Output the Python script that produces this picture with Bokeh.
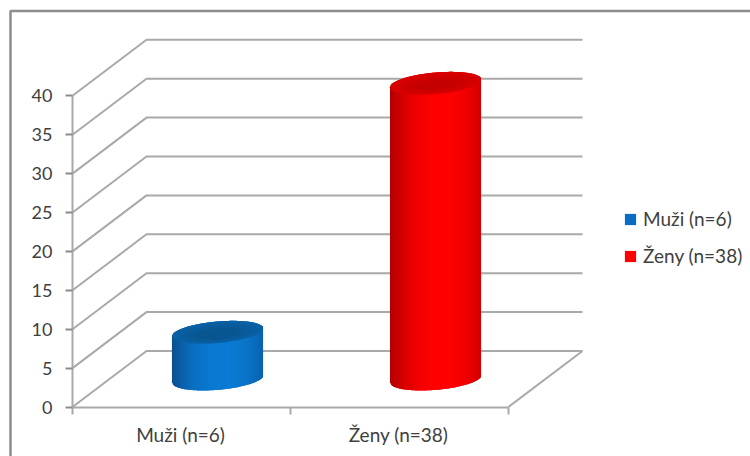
import math

from bokeh.embed import file_html
from bokeh.models import FixedTicker, Legend, LegendItem, LinearAxis, Range1d
from bokeh.plotting import figure
from bokeh.resources import INLINE

categories = ["Muži (n=6)", "Ženy (n=38)"]
values = [6, 38]
value_ticks = [0, 5, 10, 15, 20, 25, 30, 35, 40]

page_w, page_h = 750, 456
zero_row = 406.5
px_per_unit = 7.78
font = "Lato"
text_color = "#404040"
grid_color = "#a9a9a9"

# Oblique projection of the chart box: wall depth and floor corners
left_x, right_x = 72, 508
depth_x, depth_px = 74, 56
depth = depth_px / px_per_unit
cat_centres = [180, 398]
boundaries = [72, 290, 508]

# Cylinder cross-section as seen on the sloped floor
major_x, skew_x, minor_px = 43, 15, 11.5
half_width = math.hypot(major_x, skew_x)
minor = minor_px / px_per_unit

# (key colour, edge, highlight, lid rim, lid core) for each cylinder
shades = [
    ("#0a6ec4", "#0b4f8f", "#0a7bd4", "#0a60a4", "#08558f"),
    ("#ff0000", "#b00000", "#ff0000", "#d80000", "#c40000"),
]

p = figure(
    width=page_w, height=page_h, output_backend="svg", toolbar_location=None,
    x_range=Range1d(0, page_w),
    y_range=Range1d(-(page_h - zero_row) / px_per_unit, zero_row / px_per_unit),
    min_border=0, x_axis_location=None, y_axis_location=None,
    outline_line_color=None, background_fill_color="white", border_fill_color="white",
)
p.xgrid.visible = False
p.ygrid.visible = False

y_top = zero_row / px_per_unit
y_bottom = -(page_h - zero_row) / px_per_unit

# Chart area border: left and top edges, both running off the page
frame_y = y_top - 10.5 / px_per_unit
p.line([10, 10, page_w], [y_bottom, frame_y, frame_y], line_color="#8c8c8c", line_width=2.5)

# Wall and side gridlines
p.multi_line(
    [[left_x, left_x + depth_x, right_x + depth_x] for _ in value_ticks],
    [[v, v + depth, v + depth] for v in value_ticks],
    line_color=grid_color, line_width=2,
)
p.line([right_x, right_x + depth_x], [0, depth], line_color=grid_color, line_width=2)

# Axes
y_axis = LinearAxis(
    fixed_location=left_x, ticker=FixedTicker(ticks=value_ticks), bounds=(0, 40),
    axis_line_color=grid_color, axis_line_width=2,
    major_tick_line_color="#8c8c8c", major_tick_line_width=2, major_tick_in=0, major_tick_out=7,
    minor_tick_line_color=None,
    major_label_text_font=font, major_label_text_font_size="18px",
    major_label_text_color=text_color, major_label_standoff=13,
)
p.add_layout(y_axis, "left")

x_axis = LinearAxis(
    fixed_location=0, ticker=FixedTicker(ticks=cat_centres, minor_ticks=boundaries),
    bounds=(left_x, right_x),
    axis_line_color=grid_color, axis_line_width=2,
    major_tick_line_color=None, major_tick_in=0, major_tick_out=0,
    minor_tick_line_color=grid_color, minor_tick_line_width=2, minor_tick_in=0, minor_tick_out=7,
    major_label_overrides=dict(zip(cat_centres, categories)),
    major_label_text_font=font, major_label_text_font_size="19px",
    major_label_text_color=text_color, major_label_standoff=9,
)
p.add_layout(x_axis, "below")

# Cylinders: flat bar as the base, shaded vertical strips over it, then the lid
def ellipse_rim(cx, cy):
    ts = [i / 60 * 2 * math.pi for i in range(60)]
    return ([cx + major_x * math.cos(t) + skew_x * math.sin(t) for t in ts],
            [cy + minor * math.sin(t) for t in ts])

def rim_edges(u):
    # Upper and lower rim heights, relative to the ellipse centre, at horizontal offset u
    a = major_x ** 2 + skew_x ** 2
    disc = max(a - u * u, 0.0)
    mid = u * skew_x / a
    spread = major_x * math.sqrt(disc) / a
    return minor * (mid + spread), minor * (mid - spread)

def mix(c1, c2, f):
    a = [int(c1[i:i + 2], 16) for i in (1, 3, 5)]
    b = [int(c2[i:i + 2], 16) for i in (1, 3, 5)]
    return "#%02x%02x%02x" % tuple(round(x + (y - x) * f) for x, y in zip(a, b))

keys = []
for cat_x, val, (key, edge, light, lid_rim, lid_core) in zip(cat_centres, values, shades):
    cx = cat_x + depth_x / 2
    base = depth / 2
    keys.append(p.vbar(x=[cx], width=2 * half_width - 8, bottom=[base], top=[base + val],
                       fill_color=key, line_color=None))
    n = 91
    xs, ys, colors = [], [], []
    for i in range(n):
        u0 = -half_width + 2 * half_width * i / n
        u1 = -half_width + 2 * half_width * (i + 1) / n
        um = (u0 + u1) / 2
        top0, low0 = rim_edges(u0)
        top1, low1 = rim_edges(u1)
        u1_wide = min(u1 + 1, half_width)
        xs.append([cx + u0, cx + u1_wide, cx + u1_wide, cx + u0])
        ys.append([base + low0, base + low1, base + val + top1, base + val + top0])
        f = 1 - (abs(um / half_width - 0.12) / 1.12) ** 2.2
        colors.append(mix(edge, light, f))
    p.patches(xs, ys, fill_color=colors, line_color=None)
    rx, ry = ellipse_rim(cx, base + val)
    p.patch(rx, ry, fill_color=lid_rim, line_color=None)
    # Nested ellipses deepen the lid toward its front half
    for step in range(1, 6):
        k = 1 - step * 0.12
        p.patch([cx + (x - cx) * k for x in rx],
                [base + val + (y - base - val) * k - 0.05 * step for y in ry],
                fill_color=mix(lid_rim, lid_core, step / 5), line_color=None)

legend = Legend(
    items=[LegendItem(label=c, renderers=[k]) for c, k in zip(categories, keys)],
    location=(623, 189), orientation="vertical", background_fill_alpha=0, border_line_color=None,
    glyph_width=14, glyph_height=14, label_standoff=6, spacing=14, margin=0, padding=0,
    label_text_font=font, label_text_font_size="19px", label_text_color=text_color,
    label_height=20,
)
p.add_layout(legend, "center")

open("out.html", "w").write(file_html(p, INLINE))
